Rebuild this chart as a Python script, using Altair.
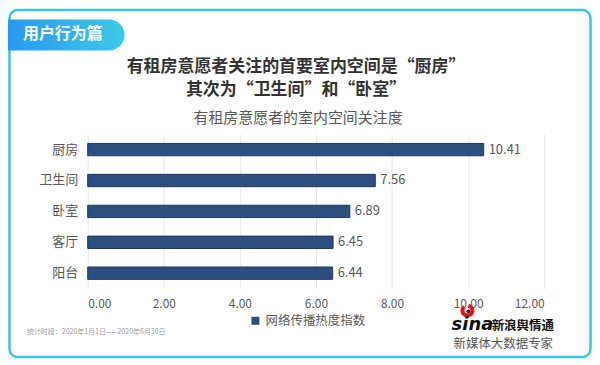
import altair as alt
import pandas as pd

categories = ["厨房", "卫生间", "卧室", "客厅", "阳台"]
values = [10.41, 7.56, 6.89, 6.45, 6.44]
series_name = "网络传播热度指数"
x_ticks = [0, 2, 4, 6, 8, 10, 12]

title_line1 = "有租房意愿者关注的首要室内空间是“厨房”"
title_line2 = "其次为“卫生间”和“卧室”"
subtitle = "有租房意愿者的室内空间关注度"
tag_text = "用户行为篇"
footnote = "统计时段：2020年1月1日——2020年6月30日"
brand_text = "新浪舆情通"
brand_slogan = "新媒体大数据专家"

FONT = "Noto Sans CJK SC"
W, H = 458, 155

df = pd.DataFrame({"cat": categories, "val": values, "series": [series_name] * len(categories)})
one = pd.DataFrame({"k": [0]})

y_enc = alt.Y("cat:N", sort=categories, title=None,
              scale=alt.Scale(paddingInner=0.6, paddingOuter=0.3),
              axis=alt.Axis(ticks=False, domain=False, labelFontSize=13, labelColor="#595959",
                            labelFont=FONT, labelPadding=10, grid=False))
x_enc = alt.X("val:Q", title=None, scale=alt.Scale(domain=[0, 12], nice=False),
              axis=alt.Axis(values=x_ticks, format=".2f", ticks=False, domain=False,
                            labelFontSize=12, labelColor="#595959", labelFont=FONT,
                            labelPadding=10, grid=True, gridColor="#e8e8e8", gridWidth=1))

bars = alt.Chart(df).mark_bar(stroke="#1d3762", strokeWidth=1).encode(
    x=x_enc, y=y_enc,
    color=alt.Color("series:N", scale=alt.Scale(range=["#2d4f80"]),
                    legend=alt.Legend(title=None, orient="none", legendX=162, legendY=181,
                                      symbolType="square", symbolSize=64, symbolStrokeWidth=0,
                                      labelFontSize=12.5, labelColor="#595959", labelFont=FONT)),
)
labels = alt.Chart(df).mark_text(align="left", dx=5, fontSize=13, color="#595959", font=FONT).encode(
    x="val:Q", y=alt.Y("cat:N", sort=categories), text=alt.Text("val:Q", format=".2f"))

def txt(text, x, y, size, color, weight="normal", align="center", font=FONT, style="normal"):
    return alt.Chart(one).mark_text(align=align, baseline="middle", fontSize=size, color=color,
                                    fontWeight=weight, font=font, fontStyle=style).encode(
        x=alt.value(x), y=alt.value(y), text=alt.value(text))

frame = alt.Chart(one).mark_rect(fillOpacity=0, stroke="#3dc3e6", strokeWidth=2.5, cornerRadius=8).encode(
    x=alt.value(-78.5), x2=alt.value(504.5), y=alt.value(-124.5), y2=alt.value(223.5))

grad = alt.Gradient(gradient="linear", x1=0, x2=1, y1=0, y2=0,
                    stops=[alt.GradientStop(color="#2a98f2", offset=0),
                           alt.GradientStop(color="#3ec9e5", offset=1)])
tag = alt.Chart(one).mark_rect(color=grad, cornerRadiusTopRight=15.5, cornerRadiusBottomRight=15.5).encode(
    x=alt.value(-80), x2=alt.value(37), y=alt.value(-115), y2=alt.value(-84))

eye = alt.Chart(one).mark_arc(color="#e0141e", innerRadius=3, outerRadius=7, theta=0.2, theta2=5.6).encode(
    x=alt.value(381), y=alt.value(177))
pupil = alt.Chart(one).mark_point(filled=True, color="#111111", size=16, opacity=1).encode(
    x=alt.value(382), y=alt.value(178))

layers = [
    frame, tag,
    txt(tag_text, -25, -100, 16, "white", "bold"),
    txt(title_line1, 209, -67, 17, "#333333", "bold"),
    txt(title_line2, 209, -44, 17, "#333333", "bold"),
    txt(subtitle, 211, -16, 15, "#595959"),
    bars, labels,
    txt(footnote, -61, 199, 7, "#9a9a9a", align="left"),
    eye, pupil,
    txt("sina", 386, 192, 18, "#111111", "bold", font="DejaVu Sans", style="italic"),
    txt(brand_text, 436.5, 192, 12.5, "#111111", "bold"),
    txt(brand_slogan, 417, 211, 12.5, "#555555"),
]

chart = alt.layer(*layers).properties(
    width=W, height=H,
    autosize=alt.AutoSizeParams(type="none"),
    padding={"left": 80, "top": 126, "right": 48, "bottom": 70},
).configure_view(stroke=None)

chart.save("out.html", embed_options={"renderer": "svg", "actions": False})
